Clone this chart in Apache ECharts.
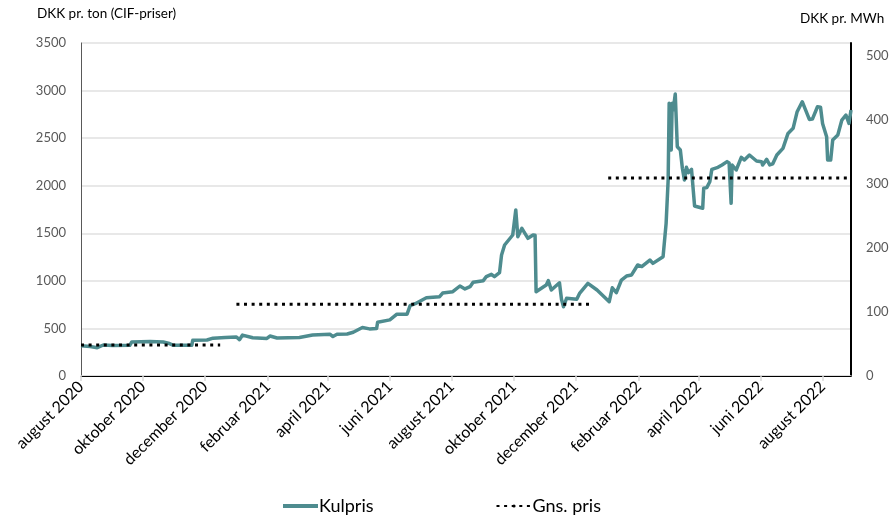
<!DOCTYPE html>
<html>
<head>
<meta charset="utf-8">
<script src="https://cdn.jsdelivr.net/npm/echarts@6/dist/echarts.min.js"></script>
<style>html,body{margin:0;padding:0;background:#fff}#c{width:896px;height:515px}</style>
</head>
<body>
<div id="c"></div>
<script>
// Kulpris (DKK pr. ton, CIF)
const kulDates = ['2020-08-01','2020-08-10','2020-08-17','2020-08-23','2020-09-01','2020-09-18','2020-09-20','2020-10-08','2020-10-21','2020-10-26','2020-10-31','2020-11-18','2020-11-19','2020-12-03','2020-12-09','2020-12-21',
'2021-01-01','2021-01-04','2021-01-07','2021-01-17','2021-01-31','2021-02-03','2021-02-10','2021-03-04','2021-03-17','2021-04-03','2021-04-06','2021-04-10','2021-04-20','2021-04-26','2021-05-05','2021-05-12','2021-05-19','2021-05-20','2021-06-01','2021-06-08','2021-06-18','2021-06-21','2021-06-26','2021-07-07','2021-07-20','2021-07-23','2021-08-02','2021-08-09','2021-08-14','2021-08-19','2021-08-22','2021-09-01','2021-09-04','2021-09-09','2021-09-12','2021-09-17','2021-09-19','2021-09-22','2021-09-30','2021-10-03','2021-10-05','2021-10-09','2021-10-15','2021-10-20','2021-10-22','2021-10-23','2021-11-02','2021-11-04','2021-11-07','2021-11-15','2021-11-17','2021-11-19','2021-11-22','2021-12-02','2021-12-05','2021-12-13','2021-12-22',
'2022-01-03','2022-01-06','2022-01-10','2022-01-15','2022-01-20','2022-01-25','2022-01-31','2022-02-04','2022-02-12','2022-02-15','2022-02-25','2022-02-28','2022-03-02','2022-03-03','2022-03-05','2022-03-06','2022-03-07','2022-03-09','2022-03-11','2022-03-14','2022-03-16','2022-03-18','2022-03-20','2022-03-22','2022-03-25','2022-03-28','2022-04-05','2022-04-06','2022-04-09','2022-04-12','2022-04-14','2022-04-20','2022-04-24','2022-04-29','2022-05-01','2022-05-03','2022-05-04','2022-05-08','2022-05-13','2022-05-16','2022-05-21','2022-05-28','2022-06-02','2022-06-03','2022-06-07','2022-06-10','2022-06-13','2022-06-17','2022-06-23','2022-06-28','2022-07-03','2022-07-07','2022-07-12','2022-07-19','2022-07-22','2022-07-27','2022-07-30','2022-08-01','2022-08-05','2022-08-06','2022-08-09','2022-08-11','2022-08-16','2022-08-20','2022-08-24','2022-08-27','2022-08-29'];
const kulValues = [318,310,298,326,320,322,358,362,358,345,322,322,375,378,398,405,
410,382,430,402,395,420,400,405,430,440,415,438,442,460,510,495,500,565,590,650,650,740,760,823,834,872,886,946,915,939,985,1002,1044,1069,1044,1086,1272,1377,1482,1745,1464,1552,1447,1482,1480,886,956,1002,904,980,806,728,817,806,872,974,904,
781,927,876,1009,1051,1062,1167,1150,1219,1184,1254,1605,2060,2866,2375,2866,2795,2964,2410,2375,2183,2060,2193,2137,2172,1787,1763,1973,1980,2042,2172,2193,2218,2253,2240,1815,2218,2165,2298,2270,2323,2260,2253,2218,2277,2218,2230,2323,2393,2550,2603,2778,2883,2697,2700,2830,2825,2655,2515,2270,2270,2480,2533,2690,2743,2655,2795];

// Gennemsnitspris (segments, null breaks the line)
const avgDates  = ['2020-08-01','2020-12-16','2020-12-24','2021-01-01','2021-12-18','2021-12-25','2022-01-02','2022-08-29'];
const avgValues = [325,325,null,755,755,null,2080,2080];

// Axis ticks
const tickDates  = ['2020-08-01','2020-10-01','2020-12-01','2021-02-01','2021-04-01','2021-06-01','2021-08-01','2021-10-01','2021-12-01','2022-02-01','2022-04-01','2022-06-01','2022-08-01'];
const tickLabels = ['august 2020','oktober 2020','december 2020','februar 2021','april 2021','juni 2021','august 2021','oktober 2021','december 2021','februar 2022','april 2022','juni 2022','august 2022'];

const FONT = 'Lato';
const ts = s => echarts.time.parse(s).getTime();
const tickTs = tickDates.map(ts);
const labelByTs = {};
tickTs.forEach((t, i) => { labelByTs[t] = tickLabels[i]; });

const xMin = ts('2020-08-01');
const xMax = ts('2022-08-29');

const chart = echarts.init(document.getElementById('c'), null, {renderer: 'canvas'});
chart.setOption({
  animation: false,
  textStyle: {fontFamily: FONT},
  title: [
    {text: 'DKK pr. ton (CIF-priser)', left: 37, top: 7, padding: 0, textStyle: {fontFamily: FONT, fontSize: 13.5, fontWeight: 'normal', color: '#000'}},
    {text: 'DKK pr. MWh', left: 800, top: 12, padding: 0, textStyle: {fontFamily: FONT, fontSize: 13.5, fontWeight: 'normal', color: '#000'}}
  ],
  grid: {left: 81, right: 45, top: 43, bottom: 139, containLabel: false},
  legend: {
    left: 283, top: 497, padding: 0, itemWidth: 35, itemHeight: 4, itemGap: 122,
    textStyle: {fontFamily: FONT, fontSize: 18, color: '#000', padding: [0,0,0,-4]},
    data: [{name: 'Kulpris', icon: 'rect'}, {name: 'Gns. pris'}]
  },
  xAxis: [{
    type: 'value', min: xMin, max: xMax, scale: true,
    axisLine: {show: true, lineStyle: {color: '#d9d9d9', width: 1.5}},
    axisTick: {show: true, customValues: tickTs, length: 5, lineStyle: {color: '#d9d9d9', width: 1.5}},
    axisLabel: {customValues: tickTs, rotate: 45, margin: 8, fontFamily: FONT, fontSize: 16, color: '#000',
      formatter: v => labelByTs[v] || ''},
    splitLine: {show: false}
  }, {
    type: 'value', min: xMin, max: xMax, scale: true, position: 'top',
    axisLine: {show: true, lineStyle: {color: '#000', width: 1}},
    axisTick: {show: false}, axisLabel: {show: false}, splitLine: {show: false}
  }],
  yAxis: [{
    type: 'value', min: 0, max: 3500, interval: 500,
    axisLine: {show: true, lineStyle: {color: '#595959', width: 1}},
    axisTick: {show: false},
    axisLabel: {margin: 15, fontFamily: FONT, fontSize: 13, color: '#595959', formatter: v => String(v)},
    splitLine: {show: true, lineStyle: {color: '#e0e0e0', width: 1.5}}
  }, {
    type: 'value', min: 0, max: 520, interval: 100, position: 'right',
    axisLine: {show: true, lineStyle: {color: '#000', width: 2}},
    axisTick: {show: false},
    axisLabel: {margin: 15, fontFamily: FONT, fontSize: 13, color: '#595959',
      formatter: v => (v % 100 === 0 ? String(v) : '')},
    splitLine: {show: false}
  }],
  series: [{
    name: 'Kulpris', type: 'line', xAxisIndex: 0, yAxisIndex: 0,
    data: kulDates.map((d, i) => [ts(d), kulValues[i]]),
    showSymbol: false, symbol: 'none',
    lineStyle: {color: '#4e8c8f', width: 3.5, join: 'round'},
    itemStyle: {color: '#4e8c8f'},
    z: 2
  }, {
    name: 'Gns. pris', type: 'line', xAxisIndex: 0, yAxisIndex: 0,
    data: avgDates.map((d, i) => [ts(d), avgValues[i] === null ? '-' : avgValues[i]]),
    showSymbol: false, symbol: 'none', connectNulls: false,
    lineStyle: {color: '#000', width: 3, type: [3, 4.6], cap: 'butt'},
    itemStyle: {color: '#000'},
    z: 3
  }]
});
</script>
</body>
</html>
